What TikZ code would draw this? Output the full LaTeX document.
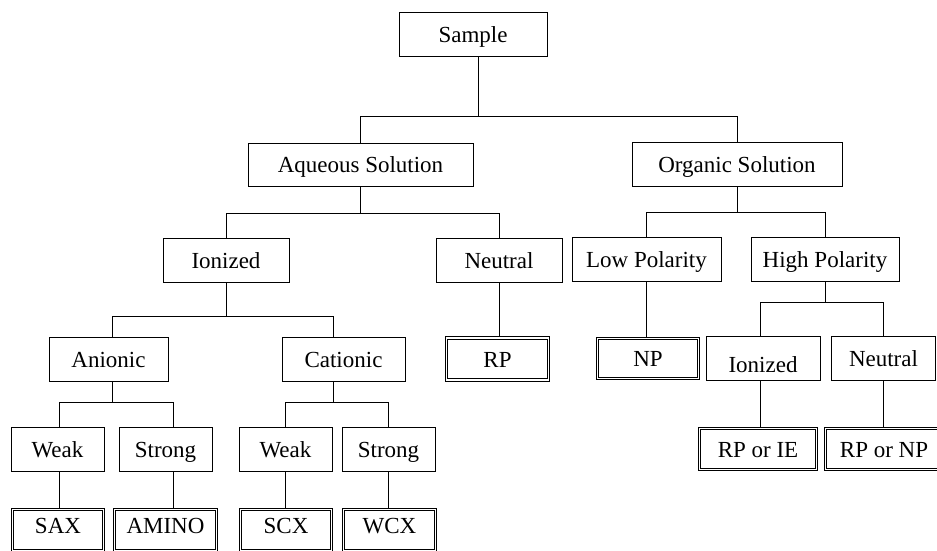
\documentclass[tikz,border=0pt]{standalone}
\usepackage{fontspec}
\setmainfont{Liberation Serif}
\begin{document}
\begin{tikzpicture}[x=1pt,y=-1pt,
  box/.style={draw, line width=1pt, minimum height=44pt, inner sep=0pt,
    font=\fontsize{23}{27}\selectfont, text height=16pt, text depth=0pt},
  dbox/.style={box, line width=1.15pt, double, double distance=1.4pt, outer sep=1.85pt, minimum height=41pt},
  link/.style={line width=1pt}]
\useasboundingbox (0,0) rectangle (937,550);
% level 0
\node[box, minimum width=148pt] (samp) at (473,34) {Sample};
% level 1
\node[box, minimum width=225pt, minimum height=43pt] (aq) at (360.5,164.5) {Aqueous Solution};
\node[box, minimum width=210pt] (org) at (737,164) {Organic Solution};
% level 2
\node[box, minimum width=126pt] (ionL) at (226,260) {Ionized};
\node[box, minimum width=126pt] (neuL) at (499,260) {Neutral};
\node[box, minimum width=149pt] (low) at (646.5,259.5) {Low Polarity};
\node[box, minimum width=148pt] (high) at (825,259.5) {High Polarity};
% level 3
\node[box, minimum width=119pt] (ani) at (108.5,359) {Anionic};
\node[box, minimum width=123pt] (cat) at (343.5,359.5) {Cationic};
\node[dbox, minimum width=102pt, minimum height=42pt] (rp) at (497.5,359) {RP};
\node[dbox, minimum width=101pt, minimum height=40pt] (np) at (648,358.5) {NP};
\node[box, minimum width=114pt, text height=28pt] (ionR) at (763,358) {Ionized};
\node[box, minimum width=104pt] (neuR) at (883.5,358) {Neutral};
% level 4
\node[box, minimum width=93pt] (weak1) at (57.5,449) {Weak};
\node[box, minimum width=93pt] (strong1) at (165.5,449) {Strong};
\node[box, minimum width=93pt] (weak2) at (285.5,449) {Weak};
\node[box, minimum width=93pt] (strong2) at (388.5,449) {Strong};
\node[dbox, minimum width=117pt] (rpie) at (758,449) {RP or IE};
\node[dbox, minimum width=117pt] (rpnp) at (884,449) {RP or NP};
% level 5
\node[dbox, minimum width=91pt, text depth=10pt] (sax) at (58,530) {SAX};
\node[dbox, minimum width=102pt, text depth=10pt] (amino) at (165.5,530) {AMINO};
\node[dbox, minimum width=91pt, text depth=10pt] (scx) at (286,530) {SCX};
\node[dbox, minimum width=92pt, text depth=10pt] (wcx) at (389.5,530) {WCX};
% connectors
\draw[link] ([xshift=5pt]samp.south) -- ++(0,60) coordinate (j1);
\draw[link] (j1) -| (aq.north);
\draw[link] (j1) -| (org.north);
\draw[link] (aq.south) -- ++(0,27) coordinate (j2);
\draw[link] (j2) -| (ionL.north);
\draw[link] (j2) -| (neuL.north);
\draw[link] (org.south) -- ++(0,26) coordinate (j3);
\draw[link] (j3) -| (low.north);
\draw[link] (j3) -| (high.north);
\draw[link] (ionL.south) -- ++(0,34) coordinate (j4);
\draw[link] (j4) -| ([xshift=3.5pt]ani.north);
\draw[link] (j4) -| ([xshift=-10.5pt]cat.north);
\draw[link] (neuL.south) -- (neuL.south |- rp.north);
\draw[link] (low.south) -- (low.south |- np.north);
\draw[link] (high.south) -- ++(0,20.5) coordinate (j5);
\draw[link] (j5) -| ([xshift=-3pt]ionR.north);
\draw[link] (j5) -| (neuR.north);
\draw[link] ([xshift=3.5pt]ani.south) -- ++(0,21) coordinate (j6);
\draw[link] (j6) -| ([xshift=1.5pt]weak1.north);
\draw[link] (j6) -| ([xshift=7.5pt]strong1.north);
\draw[link] ([xshift=-10.5pt]cat.south) -- ++(0,20.5) coordinate (j7);
\draw[link] (j7) -| (weak2.north);
\draw[link] (j7) -| (strong2.north);
\draw[link] ([xshift=1.5pt]weak1.south) -- ([xshift=1.5pt]weak1.south |- sax.north);
\draw[link] ([xshift=7.5pt]strong1.south) -- ([xshift=7.5pt]strong1.south |- amino.north);
\draw[link] (weak2.south) -- (weak2.south |- scx.north);
\draw[link] (strong2.south) -- (strong2.south |- wcx.north);
\draw[link] ([xshift=-3pt]ionR.south) -- ([xshift=-3pt]ionR.south |- rpie.north);
\draw[link] (neuR.south) -- (neuR.south |- rpnp.north);
\end{tikzpicture}
\end{document}
